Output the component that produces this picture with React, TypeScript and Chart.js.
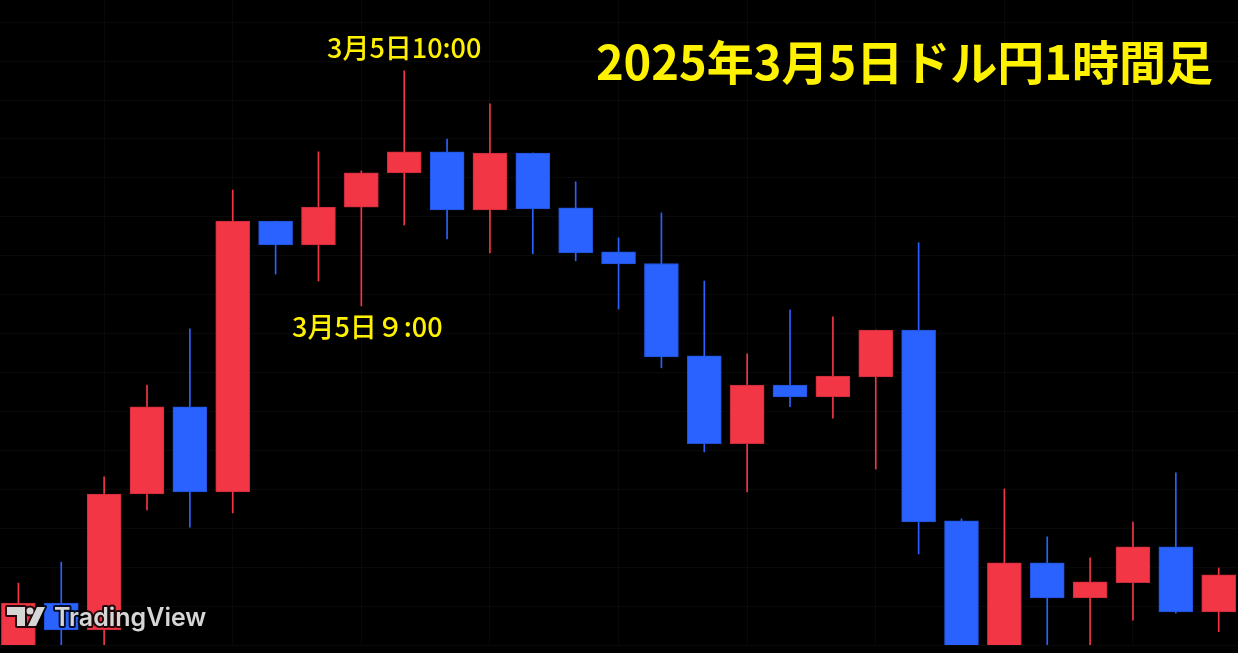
import { useEffect, useRef } from "react";
import { Chart, registerables } from "chart.js";

Chart.register(...registerables);

// 1-hour USD/JPY candles, 2025-03-05 (JST)
const times = [
  "00:00", "01:00", "02:00", "03:00", "04:00", "05:00", "06:00", "07:00", "08:00", "09:00",
  "10:00", "11:00", "12:00", "13:00", "14:00", "15:00", "16:00", "17:00", "18:00", "19:00",
  "20:00", "21:00", "22:00", "23:00", "00:00", "01:00", "02:00", "03:00", "04:00",
];
const opens = [
  148.36, 148.508, 148.439, 148.788, 149.012, 148.793, 149.489, 149.428, 149.525, 149.613,
  149.667, 149.518, 149.664, 149.523, 149.41, 149.38, 149.143, 148.917, 149.068, 149.037,
  149.089, 149.209, 148.719, 148.37, 148.611, 148.521, 148.56, 148.652, 148.485,
];
const highs = [
  148.559, 148.613, 148.832, 149.068, 149.212, 149.569, 149.489, 149.667, 149.618, 149.875,
  149.70, 149.79, 149.664, 149.59, 149.446, 149.51, 149.335, 149.148, 149.261, 149.243,
  149.209, 149.433, 148.724, 148.801, 148.678, 148.624, 148.716, 148.842, 148.598,
];
const lows = [
  148.35, 148.36, 148.37, 148.747, 148.703, 148.739, 149.353, 149.335, 149.271, 149.479,
  149.443, 149.407, 149.405, 149.387, 149.263, 149.112, 148.896, 148.793, 149.012, 148.983,
  148.852, 148.634, 148.36, 148.36, 148.37, 148.37, 148.464, 148.482, 148.434,
];
const closes = [
  148.508, 148.439, 148.788, 149.012, 148.793, 149.489, 149.428, 149.525, 149.613, 149.667,
  149.518, 149.664, 149.52, 149.407, 149.379, 149.14, 148.917, 149.068, 149.037, 149.091,
  149.209, 148.716, 148.37, 148.611, 148.521, 148.562, 148.652, 148.485, 148.58,
];

const yGridTicks = [
  148.4, 148.5, 148.6, 148.7, 148.8, 148.9, 149.0, 149.1, 149.2, 149.3, 149.4, 149.5, 149.6,
  149.7, 149.8, 149.9, 150.0,
];
const xGridTicks = [2, 5, 8, 11, 14, 17, 20, 23, 26];

const titleText = "2025年3月5日ドル円1時間足";
const highLabel = { index: 9, text: "3月5日10:00" };
const lowLabel = { index: 8, text: "3月5日９:00" };

const UP = "#F23645";
const UP_BORDER = "#C92C3A";
const DOWN = "#2962FF";
const DOWN_BORDER = "#2352D6";
const YELLOW = "#FFF200";
const GRID = "rgba(255,255,255,0.035)";
const JP_FONT = '"Noto Sans CJK JP", "Noto Sans", sans-serif';

export default function App() {
  const ref = useRef<HTMLCanvasElement | null>(null);

  useEffect(() => {
    document.body.style.margin = "0";
    document.body.style.background = "#000";
    const canvas = ref.current;
    if (!canvas) return;

    const isUp = opens.map((o, i) => closes[i] >= o);
    const fill = isUp.map((u) => (u ? UP : DOWN));
    const border = isUp.map((u) => (u ? UP_BORDER : DOWN_BORDER));

    const overlay = {
      id: "overlay",
      beforeDraw(chart: any) {
        const c = chart.ctx;
        c.save();
        c.fillStyle = "#000";
        c.fillRect(0, 0, chart.width, chart.height);
        c.restore();
      },
      afterDraw(chart: any) {
        const c = chart.ctx as CanvasRenderingContext2D;
        const xs = chart.scales.x;
        const ys = chart.scales.y;
        c.save();
        // title
        c.fillStyle = YELLOW;
        c.textBaseline = "alphabetic";
        c.textAlign = "right";
        c.font = `bold 47px ${JP_FONT}`;
        c.fillText(titleText, 1213, 80);

        // annotations
        c.font = `500 27px ${JP_FONT}`;
        c.textAlign = "center";
        const hx = xs.getPixelForValue(highLabel.index);
        const hy = ys.getPixelForValue(highs[highLabel.index]);
        c.fillText(highLabel.text, hx, hy - 13);
        const lx = xs.getPixelForValue(lowLabel.index);
        const ly = ys.getPixelForValue(lows[lowLabel.index]);
        c.fillText(lowLabel.text, lx + 6, ly + 31);

        // TradingView watermark
        c.lineJoin = "round";
        c.strokeStyle = "rgba(0,0,0,0.85)";
        c.lineWidth = 4;
        c.fillStyle = "#D6D6D6";
        const drawIcon = (mode: "stroke" | "fill") => {
          c.beginPath();
          c.moveTo(7, 607);
          c.lineTo(25, 607);
          c.lineTo(25, 626);
          c.lineTo(17, 626);
          c.lineTo(17, 615);
          c.lineTo(7, 615);
          c.closePath();
          c.moveTo(37, 607);
          c.lineTo(45, 607);
          c.lineTo(36, 626);
          c.lineTo(28, 626);
          c.closePath();
          c.moveTo(33.5, 611);
          c.arc(30, 611, 3.5, 0, Math.PI * 2);
          if (mode === "stroke") c.stroke();
          else c.fill();
        };
        drawIcon("stroke");
        drawIcon("fill");
        c.font = `600 25px Inter, "Open Sans", sans-serif`;
        c.textAlign = "left";
        c.strokeText("TradingView", 54, 626);
        c.fillText("TradingView", 54, 626);
        c.restore();
      },
    };

    const chart = new Chart(canvas, {
      type: "bar",
      data: {
        datasets: [
          {
            label: "body",
            data: times.map((_, i) => ({ x: i, y: [opens[i], closes[i]] })) as any,
            backgroundColor: fill,
            borderColor: border,
            borderWidth: 1,
            borderSkipped: false,
            barThickness: 34,
            grouped: false,
            order: 1,
            clip: 0,
          } as any,
          {
            label: "wick",
            data: times.map((_, i) => ({ x: i, y: [lows[i], highs[i]] })) as any,
            backgroundColor: fill,
            borderWidth: 0,
            barThickness: 1,
            grouped: false,
            order: 2,
            clip: 0,
          } as any,
        ],
      },
      options: {
        responsive: false,
        animation: false,
        events: [],
        layout: { padding: { left: 0, right: 0, top: 0, bottom: 8 } },
        plugins: { legend: { display: false }, tooltip: { enabled: false } },
        scales: {
          x: {
            type: "linear",
            min: -0.429,
            max: 28.45,
            offset: false,
            afterBuildTicks: (axis: any) => {
              axis.ticks = xGridTicks.map((v) => ({ value: v }));
            },
            ticks: { display: false },
            border: { display: false },
            grid: { color: GRID, drawTicks: false, offset: false },
          },
          y: {
            type: "linear",
            min: 148.4,
            max: 150.057,
            afterBuildTicks: (axis: any) => {
              axis.ticks = yGridTicks.map((v) => ({ value: v }));
            },
            ticks: { display: false },
            border: { display: false },
            grid: { color: GRID, drawTicks: false },
          },
        },
      } as any,
      plugins: [overlay],
    });

    return () => chart.destroy();
  }, []);

  return (
    <div style={{ position: "fixed", left: 0, top: 0, width: 1238, height: 653, background: "#000" }}>
      <canvas ref={ref} width={1238} height={653} style={{ display: "block" }} />
    </div>
  );
}
